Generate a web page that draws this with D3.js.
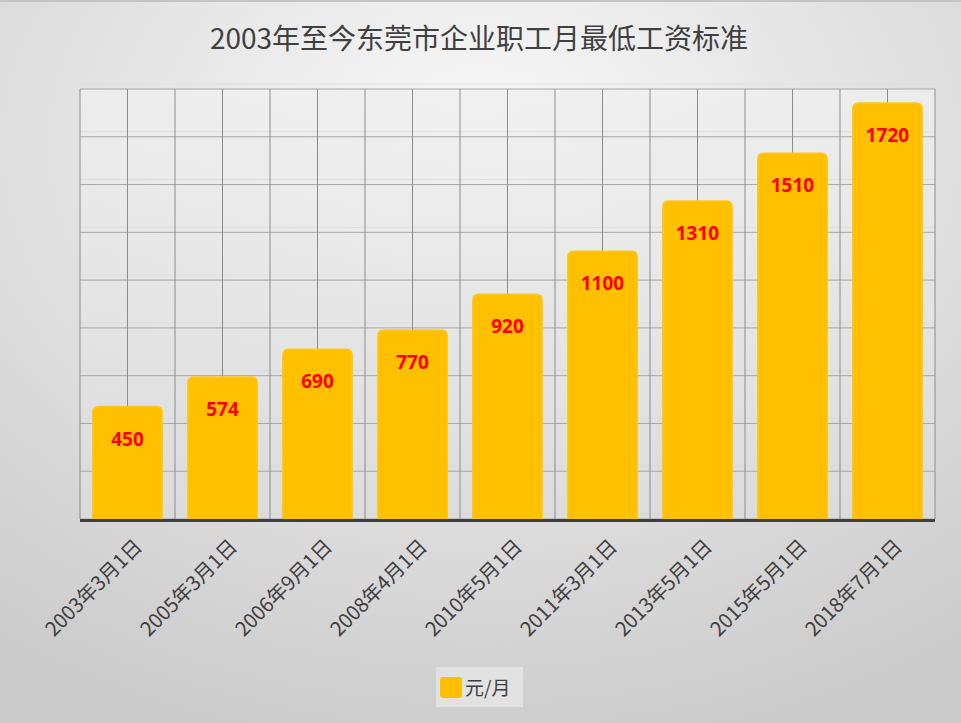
<!DOCTYPE html>
<html><head><meta charset="utf-8">
<script src="https://cdn.jsdelivr.net/npm/d3@7"></script>
<style>html,body{margin:0;padding:0;background:#fff}svg{display:block}</style>
</head><body>
<script>
const categories = ["2003年3月1日","2005年3月1日","2006年9月1日","2008年4月1日","2010年5月1日","2011年3月1日","2013年5月1日","2015年5月1日","2018年7月1日"];
const values = [450,574,690,770,920,1100,1310,1510,1720];
const gridTicks = [0,200,400,600,800,1000,1200,1400,1600,1800];
const seriesName = "元/月";
const title = "2003年至今东莞市企业职工月最低工资标准";

(function(){
const W = 961, H = 723;
const svg = d3.select("body").append("svg").attr("width", W).attr("height", H);
const defs = svg.append("defs");
const rg = defs.append("radialGradient").attr("id","bg").attr("cx","50%").attr("cy","20%").attr("r","85%");
rg.append("stop").attr("offset","0%").attr("stop-color","#f9f9f9");
rg.append("stop").attr("offset","100%").attr("stop-color","#cbcbcb");
const lg = defs.append("linearGradient").attr("id","wall").attr("x1",0).attr("y1",0).attr("x2",0).attr("y2",1);
lg.append("stop").attr("offset","0%").attr("stop-color","#efefef");
lg.append("stop").attr("offset","100%").attr("stop-color","#dcdcdc");

svg.append("rect").attr("width",W).attr("height",H).attr("fill","url(#bg)");
svg.append("rect").attr("x",0).attr("y",0).attr("width",W).attr("height",2).attr("fill","#c4c4c4");

const pl = 80, pr = 935, pt = 89, floor = 519;
const x = d3.scaleBand().domain(categories).range([pl,pr]).paddingInner(0.27).paddingOuter(0.135);
const y = d3.scaleLinear().domain([0,1800]).range([floor, pt]);
const depth = 5;
const yb = d3.scaleLinear().domain([0,1800]).range([floor-depth, pt-depth]);

svg.append("rect").attr("x",pl).attr("y",pt).attr("width",pr-pl).attr("height",floor-pt)
  .attr("fill","url(#wall)").attr("opacity",0.8);

svg.append("g").selectAll("line").data(gridTicks).join("line")
  .attr("x1",pl).attr("x2",pr).attr("y1",d=>y(d)).attr("y2",d=>y(d))
  .attr("stroke","#a6a6a6").attr("stroke-width",1);
svg.append("g").selectAll("line").data(gridTicks).join("line")
  .attr("x1",pl).attr("x2",pr).attr("y1",d=>y(d)-depth).attr("y2",d=>y(d)-depth)
  .attr("stroke","#d8d8d8").attr("stroke-width",1).attr("opacity",0.6);

const step = x.step();
const vx = [];
for (let i=0;i<=categories.length;i++){ vx.push(pl + i*step); if(i<categories.length) vx.push(pl + i*step + step/2); }
svg.append("g").selectAll("line").data(vx).join("line")
  .attr("x1",d=>d).attr("x2",d=>d).attr("y1",pt).attr("y2",floor)
  .attr("stroke","#8c8c8c").attr("stroke-width",1);

const r = 6;
function barPath(x0, y0, w, yBottom){
  return `M${x0},${yBottom} V${y0+r} Q${x0},${y0} ${x0+r},${y0} H${x0+w-r} Q${x0+w},${y0} ${x0+w},${y0+r} V${yBottom} Z`;
}
svg.append("g").selectAll("path").data(values).join("path")
  .attr("d",(d,i)=>barPath(x(categories[i]), yb(d), x.bandwidth(), floor+1))
  .attr("fill","#FFC000").attr("stroke","#ffc71c").attr("stroke-width",1.5);

svg.append("rect").attr("x",pl).attr("y",floor).attr("width",pr-pl).attr("height",3).attr("fill","#3f3f3f");

svg.append("g").selectAll("text").data(values).join("text")
  .attr("x",(d,i)=>x(categories[i]) + x.bandwidth()/2)
  .attr("y",d=>yb(d) + 39)
  .attr("text-anchor","middle")
  .attr("font-family","'Noto Sans', 'Liberation Sans', sans-serif")
  .attr("font-weight","bold").attr("font-size",19).attr("fill","#ff0000")
  .text(d=>d);

svg.append("g").selectAll("text").data(categories).join("text")
  .attr("transform",(d)=>`translate(${x(d)+x.bandwidth()/2+11},${floor+24}) rotate(-45)`)
  .attr("text-anchor","end").attr("dy","0.35em")
  .attr("font-family","'Noto Sans CJK SC', sans-serif")
  .attr("font-size",20).attr("fill","#404040")
  .text(d=>d);

svg.append("text").attr("x",479).attr("y",49).attr("text-anchor","middle")
  .attr("font-family","'Noto Sans CJK SC', sans-serif").attr("font-size",28).attr("fill","#404040")
  .text(title);

const leg = svg.append("g");
leg.append("rect").attr("x",436).attr("y",667).attr("width",87).attr("height",40).attr("fill","#e6e6e6").attr("opacity",0.8);
leg.append("rect").attr("x",440).attr("y",677).attr("width",22).attr("height",21).attr("rx",3).attr("fill","#FFC000");
leg.append("text").attr("x",465).attr("y",695).attr("font-family","'Noto Sans CJK SC', sans-serif")
  .attr("font-size",19).attr("fill","#404040").text(seriesName);
})();
</script>
</body></html>
